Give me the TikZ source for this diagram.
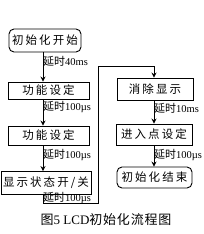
\documentclass[tikz,border=0pt]{standalone}
\usepackage{fontspec}
\setmainfont{Liberation Serif}
\newfontfamily\cjk{Noto Sans CJK SC}
\newfontfamily\cjkbox[LetterSpace=18]{Noto Sans CJK SC}
\newfontfamily\cjkcap[LetterSpace=6]{Noto Sans CJK SC}
\usetikzlibrary{arrows.meta}

\newcommand{\yanshi}[1]{{\cjk\fontsize{11}{11}\selectfont 延时}#1}

\begin{document}
\begin{tikzpicture}[x=1pt,y=-1pt,
  box/.style={draw, line width=0.9pt, inner sep=0pt, font=\cjkbox\fontsize{11.5}{11.5}\selectfont},
  term/.style={box, rounded corners=5pt},
  delay/.style={anchor=west, inner sep=0pt, font=\fontsize{10.5}{10.5}\selectfont},
  flow/.style={line width=0.9pt, -{Stealth[length=5pt,width=5pt]}}]
\useasboundingbox (0,0) rectangle (204,234);

% arrow axes
\coordinate (axl) at (43,0);
\coordinate (axr) at (154,0);

% left column
\node[term, minimum width=72pt, minimum height=23pt] (start) at (45,40.5) {初始化开始};
\node[box, minimum width=81pt, minimum height=17pt] (fs1) at (48.5,90.5) {功能设定};
\node[box, minimum width=81pt, minimum height=19pt] (fs2) at (48.5,135.5) {功能设定};
\node[box, minimum width=90pt, minimum height=23pt] (disp) at (46,183) {显示状态开/关};

% right column
\node[box, minimum width=76pt, minimum height=22pt] (clr) at (155,89) {消除显示};
\node[box, minimum width=76pt, minimum height=21pt] (entry) at (154,134.5) {进入点设定};
\node[term, minimum width=75pt, minimum height=21pt] (stop) at (154.5,177.5) {初始化结束};

% delays
\node[delay] (d1) at (43,61) {\yanshi{40ms}};
\node[delay] (d2) at (43,107) {\yanshi{100µs}};
\node[delay] (d3) at (43,155) {\yanshi{100µs}};
\node[delay] (d4) at (43,198) {\yanshi{100µs}};
\node[delay] (d5) at (154,108) {\yanshi{10ms}};
\node[delay] (d6) at (154,155) {\yanshi{100µs}};

% loop corners
\coordinate (c1) at (43,203);
\coordinate (c2) at (98,203);
\coordinate (c3) at (98,66);
\coordinate (c4) at (154,66);

\draw[flow] (start.south -| axl) -- (fs1.north -| axl);
\draw[flow] (fs1.south -| axl) -- (fs2.north -| axl);
\draw[flow] (fs2.south -| axl) -- (disp.north -| axl);
\draw[flow] (disp.south -| axl) -- (c1) -- (c2) -- (c3) -- (c4) -- (clr.north -| axr);
\draw[flow] (clr.south -| axr) -- (entry.north -| axr);
\draw[flow] (entry.south -| axr) -- (stop.north -| axr);

% caption
\node[font=\cjkcap\fontsize{13}{13}\selectfont] (cap) at (106,220) {图{\rmfamily 5 LCD}初始化流程图};
\end{tikzpicture}
\end{document}
